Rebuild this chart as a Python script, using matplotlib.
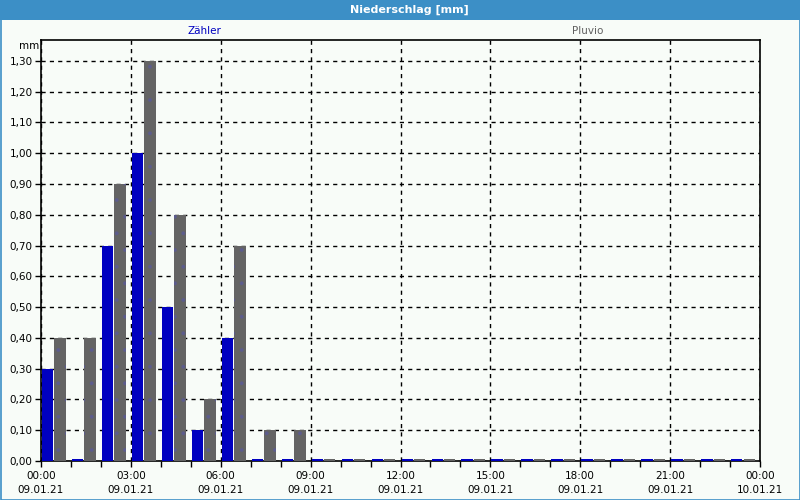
import matplotlib
matplotlib.use("Agg")
import matplotlib.pyplot as plt
import matplotlib.dates as mdates
from matplotlib.patches import Rectangle
from matplotlib.ticker import FuncFormatter
import numpy as np
import datetime as dt

# ---- data ----
hours = list(range(24))
zaehler = [0.30, 0.00, 0.70, 1.00, 0.50, 0.10, 0.40, 0.00, 0.00] + [0.00] * 15
pluvio = [0.40, 0.40, 0.90, 1.30, 0.80, 0.20, 0.70, 0.10, 0.10] + [0.00] * 15
series_names = ["Zähler", "Pluvio"]
ytick_values = [round(0.1 * i, 2) for i in range(14)]
xtick_labels = ["00:00\n09.01.21", "03:00\n09.01.21", "06:00\n09.01.21", "09:00\n09.01.21",
                "12:00\n09.01.21", "15:00\n09.01.21", "18:00\n09.01.21", "21:00\n09.01.21",
                "00:00\n10.01.21"]

plt.rcParams['font.family'] = ['DejaVu Sans']
plt.rcParams['hatch.linewidth'] = 0.3

BG = '#f8fcf8'
FRAME = '#3c8fc6'
fig = plt.figure(figsize=(8, 5), dpi=100, facecolor=BG)

# title bar and frame
fig.patches.append(Rectangle((0, 1 - 20 / 500), 1, 20 / 500, transform=fig.transFigure,
                             facecolor=FRAME, edgecolor='none', zorder=0))
fig.patches.append(Rectangle((0.5 / 800, 0.5 / 500), 1 - 1 / 800, 1 - 1 / 500, transform=fig.transFigure,
                             facecolor='none', edgecolor=FRAME, lw=1.2, zorder=5))
fig.text(409 / 800, 1 - 10 / 500, "Niederschlag [mm]", color='white', fontsize=8, fontweight='bold',
         ha='center', va='center')
fig.text(204 / 800, 1 - 31 / 500, series_names[0], color='#0000c0', fontsize=7.5, ha='center', va='center')
fig.text(588 / 800, 1 - 31 / 500, series_names[1], color='#606060', fontsize=7.5, ha='center', va='center')
fig.text(29 / 800, 1 - 46 / 500, "mm", color='black', fontsize=7.5, ha='center', va='center')

ax = fig.add_axes([41 / 800, 1 - 461 / 500, (760 - 41) / 800, (461 - 40) / 500])
ax.set_facecolor(BG)

start = dt.datetime(2021, 1, 9, 0, 0)
t0 = mdates.date2num(start)
hour_w = 1 / 24.0
xs = np.array([t0 + h * hour_w for h in hours])
floor = 0.0065
zd = [max(v, floor) for v in zaehler]
pd_ = [max(v, floor) for v in pluvio]
bw = 0.38 * hour_w
ax.bar(xs + 0.035 * hour_w, zd, width=bw, align='edge', color='#0000c0',
       edgecolor='none', linewidth=0, zorder=3)
ax.bar(xs + 0.45 * hour_w, pd_, width=bw, align='edge', color='#646464',
       edgecolor='none', linewidth=0, zorder=3)
ax.bar(xs + 0.45 * hour_w, pd_, width=bw, align='edge', facecolor='none',
       edgecolor='#5c5c8c', linewidth=0, hatch='.', zorder=3.5)

ax.set_xlim(t0, t0 + 1.0)
ax.set_ylim(0, 1.368)

xticks = [t0 + i * 3 * hour_w for i in range(9)]
ax.set_xticks(xticks)
ax.set_xticklabels(xtick_labels, fontsize=7.5, linespacing=1.55)
ax.set_xticks([t0 + h * hour_w for h in range(25)], minor=True)
ax.set_yticks(ytick_values)
ax.yaxis.set_major_formatter(FuncFormatter(lambda v, p: f"{v:.2f}".replace('.', ',')))
ax.tick_params(axis='y', labelsize=7.5, length=4, width=1, pad=2)
ax.tick_params(axis='x', which='both', length=4, width=1, pad=3)

ax.grid(True, which='major', color='black', linestyle=(0, (3, 3)), linewidth=1, zorder=1)
ax.set_axisbelow(True)
for s in ax.spines.values():
    s.set_linewidth(1.2)
    s.set_color('black')

fig.savefig("out.png", dpi=100, facecolor=BG)
